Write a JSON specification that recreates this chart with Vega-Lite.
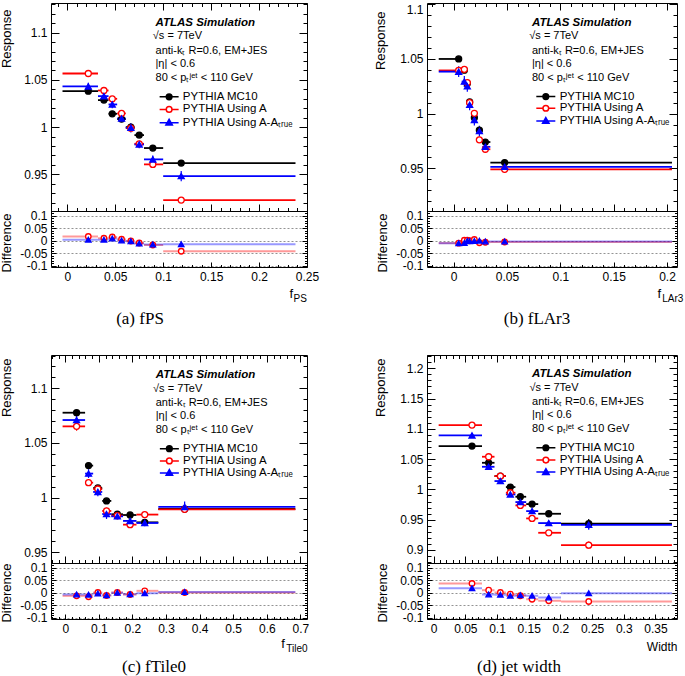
{
"$schema":"https://vega.github.io/schema/vega-lite/v6.json",
"background":"white",
"padding":{"left":0,"top":-3,"right":0,"bottom":0},
"config":{
 "view":{"stroke":"black","strokeWidth":1},
 "font":"Liberation Sans",
 "axis":{"labelFont":"Liberation Sans","labelFontSize":12,"labelColor":"black","titleFont":"Liberation Sans","titleFontSize":13,"titleFontWeight":"normal","titleColor":"black","tickColor":"black","domain":false,"grid":false,"labelOverlap":false,"labelFlush":false},
 "title":{"font":"Liberation Serif","fontSize":17,"fontWeight":"normal","color":"black"},
 "text":{"font":"Liberation Sans","fontSize":11,"color":"black","align":"left","baseline":"middle"}
},
"datasets":{
"pts":[
{"p":"a","s":"MC10","x":0.0219,"lo":-0.005,"hi":0.032,"y":1.0381,"e":0.0015},
{"p":"a","s":"MC10","x":0.0382,"lo":0.032,"hi":0.043,"y":1.0286,"e":0.0015},
{"p":"a","s":"MC10","x":0.0469,"lo":0.043,"hi":0.052,"y":1.0141,"e":0.0015},
{"p":"a","s":"MC10","x":0.0566,"lo":0.052,"hi":0.061,"y":1.0085,"e":0.0015},
{"p":"a","s":"MC10","x":0.0663,"lo":0.061,"hi":0.070,"y":1.0000,"e":0.0015},
{"p":"a","s":"MC10","x":0.0750,"lo":0.070,"hi":0.080,"y":0.9915,"e":0.0015},
{"p":"a","s":"MC10","x":0.0892,"lo":0.080,"hi":0.100,"y":0.9778,"e":0.002},
{"p":"a","s":"MC10","x":0.1188,"lo":0.100,"hi":0.238,"y":0.9619,"e":0.002},
{"p":"a","s":"A","x":0.0219,"lo":-0.005,"hi":0.032,"y":1.0568,"e":0.0025,"d":0.016},
{"p":"a","s":"A","x":0.0382,"lo":0.032,"hi":0.043,"y":1.0388,"e":0.0025,"d":0.009},
{"p":"a","s":"A","x":0.0469,"lo":0.043,"hi":0.052,"y":1.0300,"e":0.0025,"d":0.014},
{"p":"a","s":"A","x":0.0566,"lo":0.052,"hi":0.061,"y":1.0145,"e":0.0025,"d":0.005},
{"p":"a","s":"A","x":0.0663,"lo":0.061,"hi":0.070,"y":0.9989,"e":0.0025,"d":-0.002},
{"p":"a","s":"A","x":0.0750,"lo":0.070,"hi":0.080,"y":0.9823,"e":0.0025,"d":-0.010},
{"p":"a","s":"A","x":0.0892,"lo":0.080,"hi":0.100,"y":0.9605,"e":0.0025,"d":-0.018},
{"p":"a","s":"A","x":0.1188,"lo":0.100,"hi":0.238,"y":0.9227,"e":0.0025,"d":-0.043},
{"p":"a","s":"AA","x":0.0219,"lo":-0.005,"hi":0.032,"y":1.0431,"e":0.004,"d":0.003},
{"p":"a","s":"AA","x":0.0382,"lo":0.032,"hi":0.043,"y":1.0328,"e":0.004,"d":0.003},
{"p":"a","s":"AA","x":0.0469,"lo":0.043,"hi":0.052,"y":1.0240,"e":0.004,"d":0.008},
{"p":"a","s":"AA","x":0.0566,"lo":0.052,"hi":0.061,"y":1.0092,"e":0.004,"d":0.0},
{"p":"a","s":"AA","x":0.0663,"lo":0.061,"hi":0.070,"y":0.9993,"e":0.005,"d":-0.003},
{"p":"a","s":"AA","x":0.0750,"lo":0.070,"hi":0.080,"y":0.9816,"e":0.004,"d":-0.012},
{"p":"a","s":"AA","x":0.0892,"lo":0.080,"hi":0.100,"y":0.9658,"e":0.004,"d":-0.016},
{"p":"a","s":"AA","x":0.1188,"lo":0.100,"hi":0.238,"y":0.9481,"e":0.0055,"d":-0.015},

{"p":"b","s":"MC10","x":0.0047,"lo":-0.014,"hi":0.0075,"y":1.0500,"e":0.0015},
{"p":"b","s":"MC10","x":0.0100,"lo":0.0075,"hi":0.0112,"y":1.0397,"e":0.0015},
{"p":"b","s":"MC10","x":0.0128,"lo":0.0112,"hi":0.0138,"y":1.0275,"e":0.0015},
{"p":"b","s":"MC10","x":0.0150,"lo":0.0138,"hi":0.0172,"y":1.0107,"e":0.0015},
{"p":"b","s":"MC10","x":0.0194,"lo":0.0172,"hi":0.0218,"y":0.9963,"e":0.0015},
{"p":"b","s":"MC10","x":0.0241,"lo":0.0218,"hi":0.0268,"y":0.9848,"e":0.002},
{"p":"b","s":"MC10","x":0.0297,"lo":0.0268,"hi":0.0344,"y":0.9740,"e":0.002},
{"p":"b","s":"MC10","x":0.0478,"lo":0.0344,"hi":0.2047,"y":0.9552,"e":0.002},
{"p":"b","s":"A","x":0.0047,"lo":-0.014,"hi":0.0075,"y":1.0395,"e":0.003,"d":-0.0105},
{"p":"b","s":"A","x":0.0100,"lo":0.0075,"hi":0.0112,"y":1.0405,"e":0.003,"d":0.001},
{"p":"b","s":"A","x":0.0128,"lo":0.0112,"hi":0.0138,"y":1.0283,"e":0.003,"d":0.001},
{"p":"b","s":"A","x":0.0150,"lo":0.0138,"hi":0.0172,"y":1.0100,"e":0.003,"d":-0.001},
{"p":"b","s":"A","x":0.0194,"lo":0.0172,"hi":0.0218,"y":1.0003,"e":0.003,"d":0.004},
{"p":"b","s":"A","x":0.0241,"lo":0.0218,"hi":0.0268,"y":0.9760,"e":0.003,"d":-0.009},
{"p":"b","s":"A","x":0.0297,"lo":0.0268,"hi":0.0344,"y":0.9674,"e":0.003,"d":-0.007},
{"p":"b","s":"A","x":0.0478,"lo":0.0344,"hi":0.2047,"y":0.9490,"e":0.003,"d":-0.006},
{"p":"b","s":"AA","x":0.0047,"lo":-0.014,"hi":0.0075,"y":1.0384,"e":0.005,"d":-0.011},
{"p":"b","s":"AA","x":0.0100,"lo":0.0075,"hi":0.0112,"y":1.0293,"e":0.005,"d":-0.010},
{"p":"b","s":"AA","x":0.0128,"lo":0.0112,"hi":0.0138,"y":1.0250,"e":0.005,"d":-0.002},
{"p":"b","s":"AA","x":0.0150,"lo":0.0138,"hi":0.0172,"y":1.0080,"e":0.005,"d":-0.003},
{"p":"b","s":"AA","x":0.0194,"lo":0.0172,"hi":0.0218,"y":0.9942,"e":0.005,"d":-0.002},
{"p":"b","s":"AA","x":0.0241,"lo":0.0218,"hi":0.0268,"y":0.9840,"e":0.005,"d":-0.001},
{"p":"b","s":"AA","x":0.0297,"lo":0.0268,"hi":0.0344,"y":0.9696,"e":0.005,"d":-0.004},
{"p":"b","s":"AA","x":0.0478,"lo":0.0344,"hi":0.2047,"y":0.9513,"e":0.005,"d":-0.004},

{"p":"c","s":"MC10","x":0.0337,"lo":-0.008,"hi":0.059,"y":1.0777,"e":0.002},
{"p":"c","s":"MC10","x":0.0693,"lo":0.059,"hi":0.083,"y":1.0293,"e":0.0015},
{"p":"c","s":"MC10","x":0.0970,"lo":0.083,"hi":0.110,"y":1.0088,"e":0.0015},
{"p":"c","s":"MC10","x":0.1228,"lo":0.110,"hi":0.137,"y":0.9970,"e":0.0015},
{"p":"c","s":"MC10","x":0.1550,"lo":0.137,"hi":0.172,"y":0.9848,"e":0.0015},
{"p":"c","s":"MC10","x":0.1930,"lo":0.172,"hi":0.212,"y":0.9841,"e":0.0015},
{"p":"c","s":"MC10","x":0.2366,"lo":0.212,"hi":0.277,"y":0.9774,"e":0.002},
{"p":"c","s":"MC10","x":0.3554,"lo":0.277,"hi":0.685,"y":0.9896,"e":0.003},
{"p":"c","s":"A","x":0.0337,"lo":-0.008,"hi":0.059,"y":1.0652,"e":0.004,"d":-0.0133},
{"p":"c","s":"A","x":0.0693,"lo":0.059,"hi":0.083,"y":1.0137,"e":0.003,"d":-0.017},
{"p":"c","s":"A","x":0.0970,"lo":0.083,"hi":0.110,"y":1.0079,"e":0.003,"d":0.0},
{"p":"c","s":"A","x":0.1228,"lo":0.110,"hi":0.137,"y":0.9878,"e":0.003,"d":-0.012},
{"p":"c","s":"A","x":0.1550,"lo":0.137,"hi":0.172,"y":0.9835,"e":0.003,"d":0.0},
{"p":"c","s":"A","x":0.1930,"lo":0.172,"hi":0.212,"y":0.9753,"e":0.003,"d":-0.008},
{"p":"c","s":"A","x":0.2366,"lo":0.212,"hi":0.277,"y":0.9845,"e":0.003,"d":0.0067},
{"p":"c","s":"A","x":0.3554,"lo":0.277,"hi":0.685,"y":0.9893,"e":0.003,"d":0.0},
{"p":"c","s":"AA","x":0.0337,"lo":-0.008,"hi":0.059,"y":1.0710,"e":0.004,"d":-0.008},
{"p":"c","s":"AA","x":0.0693,"lo":0.059,"hi":0.083,"y":1.0220,"e":0.004,"d":-0.009},
{"p":"c","s":"AA","x":0.0970,"lo":0.083,"hi":0.110,"y":1.0052,"e":0.004,"d":-0.004},
{"p":"c","s":"AA","x":0.1228,"lo":0.110,"hi":0.137,"y":0.9850,"e":0.0045,"d":-0.011},
{"p":"c","s":"AA","x":0.1550,"lo":0.137,"hi":0.172,"y":0.9829,"e":0.003,"d":-0.001},
{"p":"c","s":"AA","x":0.1930,"lo":0.172,"hi":0.212,"y":0.9787,"e":0.004,"d":-0.007},
{"p":"c","s":"AA","x":0.2366,"lo":0.212,"hi":0.277,"y":0.9768,"e":0.003,"d":-0.003},
{"p":"c","s":"AA","x":0.3554,"lo":0.277,"hi":0.685,"y":0.9915,"e":0.005,"d":0.002},

{"p":"d","s":"MC10","x":0.0605,"lo":0.0079,"hi":0.0763,"y":1.0716,"e":0.002},
{"p":"d","s":"MC10","x":0.0868,"lo":0.0763,"hi":0.096,"y":1.0440,"e":0.003},
{"p":"d","s":"MC10","x":0.1053,"lo":0.096,"hi":0.114,"y":1.0220,"e":0.003},
{"p":"d","s":"MC10","x":0.1210,"lo":0.114,"hi":0.129,"y":1.0039,"e":0.003},
{"p":"d","s":"MC10","x":0.1368,"lo":0.129,"hi":0.146,"y":0.9879,"e":0.003},
{"p":"d","s":"MC10","x":0.1553,"lo":0.146,"hi":0.165,"y":0.9758,"e":0.003},
{"p":"d","s":"MC10","x":0.1816,"lo":0.165,"hi":0.201,"y":0.9598,"e":0.003},
{"p":"d","s":"MC10","x":0.2447,"lo":0.201,"hi":0.376,"y":0.9433,"e":0.008},
{"p":"d","s":"A","x":0.0605,"lo":0.0079,"hi":0.0763,"y":1.1063,"e":0.003,"d":0.036},
{"p":"d","s":"A","x":0.0868,"lo":0.0763,"hi":0.096,"y":1.0540,"e":0.003,"d":0.0093},
{"p":"d","s":"A","x":0.1053,"lo":0.096,"hi":0.114,"y":1.0220,"e":0.003,"d":0.0},
{"p":"d","s":"A","x":0.1210,"lo":0.114,"hi":0.129,"y":0.9945,"e":0.003,"d":-0.0067},
{"p":"d","s":"A","x":0.1368,"lo":0.129,"hi":0.146,"y":0.9736,"e":0.003,"d":-0.013},
{"p":"d","s":"A","x":0.1553,"lo":0.146,"hi":0.165,"y":0.9521,"e":0.003,"d":-0.027},
{"p":"d","s":"A","x":0.1816,"lo":0.165,"hi":0.201,"y":0.9284,"e":0.003,"d":-0.033},
{"p":"d","s":"A","x":0.2447,"lo":0.201,"hi":0.376,"y":0.9080,"e":0.006,"d":-0.036},
{"p":"d","s":"AA","x":0.0605,"lo":0.0079,"hi":0.0763,"y":1.0892,"e":0.003,"d":0.0173},
{"p":"d","s":"AA","x":0.0868,"lo":0.0763,"hi":0.096,"y":1.0374,"e":0.003,"d":-0.008},
{"p":"d","s":"AA","x":0.1053,"lo":0.096,"hi":0.114,"y":1.0138,"e":0.003,"d":-0.009},
{"p":"d","s":"AA","x":0.1210,"lo":0.114,"hi":0.129,"y":0.9917,"e":0.003,"d":-0.013},
{"p":"d","s":"AA","x":0.1368,"lo":0.129,"hi":0.146,"y":0.9791,"e":0.003,"d":-0.011},
{"p":"d","s":"AA","x":0.1553,"lo":0.146,"hi":0.165,"y":0.9642,"e":0.004,"d":-0.013},
{"p":"d","s":"AA","x":0.1816,"lo":0.165,"hi":0.201,"y":0.9444,"e":0.004,"d":-0.020},
{"p":"d","s":"AA","x":0.2447,"lo":0.201,"hi":0.376,"y":0.9416,"e":0.008,"d":-0.003}
]},
"spacing":22,
"vconcat":[
{"spacing":120,"bounds":"flush","hconcat":[
 {"width":256,"height":264,"data":{"name":"pts"},"transform":[{"filter":"datum.p=='a'"}],
  "title":{"text":"(a) fPS","orient":"bottom","anchor":"middle","frame":"group","dx":-39,"offset":7.5},
  "resolve":{"scale":{"y":"independent"},"axis":{"x":"independent","y":"independent"}},
  "layer":[
   {"resolve":{"axis":{"x":"independent","y":"independent"}},
    "layer":[
    {"mark":{"type":"rule","strokeWidth":1.8},
     "encoding":{
      "x":{"field":"lo","type":"quantitative","scale":{"domain":[-0.017,0.25],"nice":false,"zero":false},
           "axis":{"orient":"bottom","offset":-56,"domain":true,"domainColor":"black","values":[-0.01,0,0.01,0.02,0.03,0.04,0.05,0.06,0.07,0.08,0.09,0.1,0.11,0.12,0.13,0.14,0.15,0.16,0.17,0.18,0.19,0.2,0.21,0.22,0.23,0.24,0.25],"labels":false,"title":null,
                   "tickSize":{"condition":{"test":"abs(datum.value*20-round(datum.value*20))<0.001","value":-7},"value":-3.5}}},
      "x2":{"field":"hi"},
      "y":{"field":"y","type":"quantitative","scale":{"domain":[0.9111,1.1315],"range":[208,0],"nice":false,"zero":false},
           "axis":{"orient":"left","values":[0.92,0.93,0.94,0.95,0.96,0.97,0.98,0.99,1,1.01,1.02,1.03,1.04,1.05,1.06,1.07,1.08,1.09,1.1,1.11,1.12,1.13],
                   "labelExpr":"abs(datum.value*20-round(datum.value*20))<0.001 ? ''+datum.value : ''","labelPadding":12,
                   "tickSize":{"condition":{"test":"abs(datum.value*20-round(datum.value*20))<0.001","value":-8},"value":-4},
                   "title":"Response","titleX":-40.5,"titleY":6,"titleAlign":"right","titleBaseline":"alphabetic","titleAngle":270}},
      "color":{"field":"s","type":"nominal","scale":{"domain":["MC10","A","AA"],"range":["#000000","#ff0000","#0000ff"]},"legend":null}}},
    {"mark":{"type":"errorbar","ticks":false,"thickness":1.2},
     "encoding":{"x":{"field":"x","type":"quantitative","axis":null},"y":{"field":"y","type":"quantitative","axis":null},"yError":{"field":"e"},
      "color":{"field":"s","type":"nominal","scale":{"domain":["MC10","A","AA"],"range":["#000000","#ff0000","#0000ff"]},"legend":null}}},
    {"mark":{"type":"point","size":36,"strokeWidth":1.3,"opacity":1},
     "encoding":{
      "x":{"field":"x","type":"quantitative","axis":{"orient":"top","values":[-0.01,0,0.01,0.02,0.03,0.04,0.05,0.06,0.07,0.08,0.09,0.1,0.11,0.12,0.13,0.14,0.15,0.16,0.17,0.18,0.19,0.2,0.21,0.22,0.23,0.24,0.25],"labels":false,"title":null,
                   "tickSize":{"condition":{"test":"abs(datum.value*20-round(datum.value*20))<0.001","value":-7},"value":-3.5}}},
      "y":{"field":"y","type":"quantitative","axis":{"orient":"right","values":[0.92,0.93,0.94,0.95,0.96,0.97,0.98,0.99,1,1.01,1.02,1.03,1.04,1.05,1.06,1.07,1.08,1.09,1.1,1.11,1.12,1.13],"labels":false,"title":null,
                   "tickSize":{"condition":{"test":"abs(datum.value*20-round(datum.value*20))<0.001","value":-8},"value":-4}}},
      "shape":{"field":"s","type":"nominal","scale":{"domain":["MC10","A","AA"],"range":["circle","circle","triangle-up"]},"legend":null},
      "fill":{"field":"s","type":"nominal","scale":{"domain":["MC10","A","AA"],"range":["#000000","#ffffff","#0000ff"]},"legend":null},
      "stroke":{"field":"s","type":"nominal","scale":{"domain":["MC10","A","AA"],"range":["#000000","#ff0000","#0000ff"]},"legend":null}}},
    {"data":{"values":[{}]},"mark":{"type":"text","text":"ATLAS Simulation","fontWeight":"bold","fontStyle":"italic","fontSize":11.5},"encoding":{"x":{"datum":0.092,"type":"quantitative","axis":null},"y":{"datum":1.1098,"type":"quantitative","axis":null}}},
    {"data":{"values":[{}]},"mark":{"type":"text","text":"√s = 7TeV"},"encoding":{"x":{"datum":0.0892,"type":"quantitative","axis":null},"y":{"datum":1.0964,"type":"quantitative","axis":null}}},
    {"data":{"values":[{}]},"mark":{"type":"text","text":"anti-kₜ R=0.6, EM+JES"},"encoding":{"x":{"datum":0.092,"type":"quantitative","axis":null},"y":{"datum":1.0805,"type":"quantitative","axis":null}}},
    {"data":{"values":[{}]},"mark":{"type":"text","text":"|η| < 0.6"},"encoding":{"x":{"datum":0.092,"type":"quantitative","axis":null},"y":{"datum":1.0664,"type":"quantitative","axis":null}}},
    {"data":{"values":[{}]},"mark":{"type":"text","text":"80 < pₜʲᵉᵗ < 110 GeV"},"encoding":{"x":{"datum":0.092,"type":"quantitative","axis":null},"y":{"datum":1.0515,"type":"quantitative","axis":null}}},
    {"data":{"values":[{}]},"mark":{"type":"point","shape":"M-1,0L1,0M-0.3,0A0.3,0.3,0,1,1,0.3,0A0.3,0.3,0,1,1,-0.3,0Z","size":361,"fill":"#000000","stroke":"#000000","strokeWidth":1.5,"opacity":1},"encoding":{"x":{"datum":0.1062,"type":"quantitative","axis":null},"y":{"datum":1.0321,"type":"quantitative","axis":null}}},
    {"data":{"values":[{}]},"mark":{"type":"point","shape":"M-1,0L-0.3,0M0.3,0L1,0M-0.3,0A0.3,0.3,0,1,1,0.3,0A0.3,0.3,0,1,1,-0.3,0Z","size":361,"fill":"#ffffff","stroke":"#ff0000","strokeWidth":1.5,"opacity":1},"encoding":{"x":{"datum":0.1062,"type":"quantitative","axis":null},"y":{"datum":1.0187,"type":"quantitative","axis":null}}},
    {"data":{"values":[{}]},"mark":{"type":"point","shape":"M-1,0L1,0M0,-0.36L0.34,0.24L-0.34,0.24Z","size":361,"fill":"#0000ff","stroke":"#0000ff","strokeWidth":1.5,"opacity":1},"encoding":{"x":{"datum":0.1062,"type":"quantitative","axis":null},"y":{"datum":1.0046,"type":"quantitative","axis":null}}},
    {"data":{"values":[{}]},"mark":{"type":"text","text":"PYTHIA MC10","fontSize":11.5},"encoding":{"x":{"datum":0.1205,"type":"quantitative","axis":null},"y":{"datum":1.0321,"type":"quantitative","axis":null}}},
    {"data":{"values":[{}]},"mark":{"type":"text","text":"PYTHIA Using A","fontSize":11.5},"encoding":{"x":{"datum":0.1205,"type":"quantitative","axis":null},"y":{"datum":1.0187,"type":"quantitative","axis":null}}},
    {"data":{"values":[{}]},"mark":{"type":"text","text":"PYTHIA Using A-Aₜᵣᵤₑ","fontSize":11.5},"encoding":{"x":{"datum":0.1205,"type":"quantitative","axis":null},"y":{"datum":1.0046,"type":"quantitative","axis":null}}}
   ]},
   {"transform":[{"filter":"datum.s!='MC10'"}],
    "resolve":{"axis":{"x":"independent","y":"independent"}},
    "layer":[
    {"mark":{"type":"rule","strokeWidth":2,"opacity":0.4},
     "encoding":{
      "x":{"field":"lo","type":"quantitative","scale":{"domain":[-0.017,0.25],"nice":false,"zero":false},
           "axis":{"orient":"bottom","values":[-0.01,0,0.01,0.02,0.03,0.04,0.05,0.06,0.07,0.08,0.09,0.1,0.11,0.12,0.13,0.14,0.15,0.16,0.17,0.18,0.19,0.2,0.21,0.22,0.23,0.24,0.25],
                   "labelExpr":"abs(datum.value*20-round(datum.value*20))<0.001 ? ''+datum.value : ''","labelPadding":9,
                   "tickSize":{"condition":{"test":"abs(datum.value*20-round(datum.value*20))<0.001","value":-5},"value":-2.5},
                   "title":"f","titleX":238,"titleY":30,"titleAlign":"left","titleBaseline":"alphabetic"}},
      "x2":{"field":"hi"},
      "y":{"field":"d","type":"quantitative","scale":{"domain":[-0.106,0.118],"range":[264,208],"nice":false,"zero":false},
           "axis":{"orient":"left","values":[-0.1,-0.09,-0.08,-0.07,-0.06,-0.05,-0.04,-0.03,-0.02,-0.01,0,0.01,0.02,0.03,0.04,0.05,0.06,0.07,0.08,0.09,0.1,0.11],
                   "labelExpr":"abs(datum.value*20-round(datum.value*20))<0.001 ? ''+datum.value : ''","labelPadding":9,
                   "tickSize":{"condition":{"test":"abs(datum.value*20-round(datum.value*20))<0.001","value":-5},"value":-2.5},
                   "grid":true,"gridDash":[2,2],"gridColor":"#777777","gridWidth":0.8,"gridOpacity":{"condition":{"test":"abs(datum.value*20-round(datum.value*20))<0.001","value":1},"value":0},
                   "title":"Difference","titleX":-40.5,"titleY":210,"titleAlign":"right","titleBaseline":"alphabetic","titleAngle":270}},
      "color":{"field":"s","type":"nominal","scale":{"domain":["MC10","A","AA"],"range":["#000000","#ff0000","#0000ff"]},"legend":null}}},
    {"mark":{"type":"point","size":30,"strokeWidth":1.3,"opacity":1},
     "encoding":{
      "x":{"field":"x","type":"quantitative","axis":{"orient":"top","ticks":false,"labels":false,"title":"PS","titleFontSize":10,"titleX":242,"titleY":298,"titleAlign":"left","titleBaseline":"alphabetic"}},
      "y":{"field":"d","type":"quantitative","axis":{"orient":"right","values":[-0.1,-0.09,-0.08,-0.07,-0.06,-0.05,-0.04,-0.03,-0.02,-0.01,0,0.01,0.02,0.03,0.04,0.05,0.06,0.07,0.08,0.09,0.1,0.11],"labels":false,"title":null,
                   "tickSize":{"condition":{"test":"abs(datum.value*20-round(datum.value*20))<0.001","value":-5},"value":-2.5}}},
      "shape":{"field":"s","type":"nominal","scale":{"domain":["MC10","A","AA"],"range":["circle","circle","triangle-up"]},"legend":null},
      "fill":{"field":"s","type":"nominal","scale":{"domain":["MC10","A","AA"],"range":["#000000","#ffffff","#0000ff"]},"legend":null},
      "stroke":{"field":"s","type":"nominal","scale":{"domain":["MC10","A","AA"],"range":["#000000","#ff0000","#0000ff"]},"legend":null}}}
   ]}
  ]},
 {"width":250,"height":264,"data":{"name":"pts"},"transform":[{"filter":"datum.p=='b'"}],
  "title":{"text":"(b) fLAr3","orient":"bottom","anchor":"middle","frame":"group","dx":-15,"offset":7.5},
  "resolve":{"scale":{"y":"independent"},"axis":{"x":"independent","y":"independent"}},
  "layer":[
   {"resolve":{"axis":{"x":"independent","y":"independent"}},
    "layer":[
    {"mark":{"type":"rule","strokeWidth":1.8},
     "encoding":{
      "x":{"field":"lo","type":"quantitative","scale":{"domain":[-0.025,0.2094],"nice":false,"zero":false},
           "axis":{"orient":"bottom","offset":-56,"domain":true,"domainColor":"black","values":[-0.02,-0.01,0,0.01,0.02,0.03,0.04,0.05,0.06,0.07,0.08,0.09,0.1,0.11,0.12,0.13,0.14,0.15,0.16,0.17,0.18,0.19,0.2],"labels":false,"title":null,
                   "tickSize":{"condition":{"test":"abs(datum.value*20-round(datum.value*20))<0.001","value":-7},"value":-3.5}}},
      "x2":{"field":"hi"},
      "y":{"field":"y","type":"quantitative","scale":{"domain":[0.9109,1.1012],"range":[208,0],"nice":false,"zero":false},
           "axis":{"orient":"left","values":[0.92,0.93,0.94,0.95,0.96,0.97,0.98,0.99,1,1.01,1.02,1.03,1.04,1.05,1.06,1.07,1.08,1.09,1.1],"labelFlush":2,
                   "labelExpr":"abs(datum.value*20-round(datum.value*20))<0.001 ? ''+datum.value : ''","labelPadding":12,
                   "tickSize":{"condition":{"test":"abs(datum.value*20-round(datum.value*20))<0.001","value":-8},"value":-4},
                   "title":"Response","titleX":-43,"titleY":8,"titleAlign":"right","titleBaseline":"alphabetic","titleAngle":270}},
      "color":{"field":"s","type":"nominal","scale":{"domain":["MC10","A","AA"],"range":["#000000","#ff0000","#0000ff"]},"legend":null}}},
    {"mark":{"type":"errorbar","ticks":false,"thickness":1.2},
     "encoding":{"x":{"field":"x","type":"quantitative","axis":null},"y":{"field":"y","type":"quantitative","axis":null},"yError":{"field":"e"},
      "color":{"field":"s","type":"nominal","scale":{"domain":["MC10","A","AA"],"range":["#000000","#ff0000","#0000ff"]},"legend":null}}},
    {"mark":{"type":"point","size":36,"strokeWidth":1.3,"opacity":1},
     "encoding":{
      "x":{"field":"x","type":"quantitative","axis":{"orient":"top","values":[-0.02,-0.01,0,0.01,0.02,0.03,0.04,0.05,0.06,0.07,0.08,0.09,0.1,0.11,0.12,0.13,0.14,0.15,0.16,0.17,0.18,0.19,0.2],"labels":false,"title":null,
                   "tickSize":{"condition":{"test":"abs(datum.value*20-round(datum.value*20))<0.001","value":-7},"value":-3.5}}},
      "y":{"field":"y","type":"quantitative","axis":{"orient":"right","values":[0.92,0.93,0.94,0.95,0.96,0.97,0.98,0.99,1,1.01,1.02,1.03,1.04,1.05,1.06,1.07,1.08,1.09,1.1],"labels":false,"title":null,
                   "tickSize":{"condition":{"test":"abs(datum.value*20-round(datum.value*20))<0.001","value":-8},"value":-4}}},
      "shape":{"field":"s","type":"nominal","scale":{"domain":["MC10","A","AA"],"range":["circle","circle","triangle-up"]},"legend":null},
      "fill":{"field":"s","type":"nominal","scale":{"domain":["MC10","A","AA"],"range":["#000000","#ffffff","#0000ff"]},"legend":null},
      "stroke":{"field":"s","type":"nominal","scale":{"domain":["MC10","A","AA"],"range":["#000000","#ff0000","#0000ff"]},"legend":null}}},
    {"data":{"values":[{}]},"mark":{"type":"text","text":"ATLAS Simulation","fontWeight":"bold","fontStyle":"italic","fontSize":11.5},"encoding":{"x":{"datum":0.0734,"type":"quantitative","axis":null},"y":{"datum":1.0827,"type":"quantitative","axis":null}}},
    {"data":{"values":[{}]},"mark":{"type":"text","text":"√s = 7TeV"},"encoding":{"x":{"datum":0.0709,"type":"quantitative","axis":null},"y":{"datum":1.0711,"type":"quantitative","axis":null}}},
    {"data":{"values":[{}]},"mark":{"type":"text","text":"anti-kₜ R=0.6, EM+JES"},"encoding":{"x":{"datum":0.0734,"type":"quantitative","axis":null},"y":{"datum":1.0573,"type":"quantitative","axis":null}}},
    {"data":{"values":[{}]},"mark":{"type":"text","text":"|η| < 0.6"},"encoding":{"x":{"datum":0.0734,"type":"quantitative","axis":null},"y":{"datum":1.0451,"type":"quantitative","axis":null}}},
    {"data":{"values":[{}]},"mark":{"type":"text","text":"80 < pₜʲᵉᵗ < 110 GeV"},"encoding":{"x":{"datum":0.0734,"type":"quantitative","axis":null},"y":{"datum":1.0329,"type":"quantitative","axis":null}}},
    {"data":{"values":[{}]},"mark":{"type":"point","shape":"M-1,0L1,0M-0.3,0A0.3,0.3,0,1,1,0.3,0A0.3,0.3,0,1,1,-0.3,0Z","size":361,"fill":"#000000","stroke":"#000000","strokeWidth":1.5,"opacity":1},"encoding":{"x":{"datum":0.0864,"type":"quantitative","axis":null},"y":{"datum":1.0156,"type":"quantitative","axis":null}}},
    {"data":{"values":[{}]},"mark":{"type":"point","shape":"M-1,0L-0.3,0M0.3,0L1,0M-0.3,0A0.3,0.3,0,1,1,0.3,0A0.3,0.3,0,1,1,-0.3,0Z","size":361,"fill":"#ffffff","stroke":"#ff0000","strokeWidth":1.5,"opacity":1},"encoding":{"x":{"datum":0.0864,"type":"quantitative","axis":null},"y":{"datum":1.0049,"type":"quantitative","axis":null}}},
    {"data":{"values":[{}]},"mark":{"type":"point","shape":"M-1,0L1,0M0,-0.36L0.34,0.24L-0.34,0.24Z","size":361,"fill":"#0000ff","stroke":"#0000ff","strokeWidth":1.5,"opacity":1},"encoding":{"x":{"datum":0.0864,"type":"quantitative","axis":null},"y":{"datum":0.9933,"type":"quantitative","axis":null}}},
    {"data":{"values":[{}]},"mark":{"type":"text","text":"PYTHIA MC10","fontSize":11.5},"encoding":{"x":{"datum":0.0994,"type":"quantitative","axis":null},"y":{"datum":1.0156,"type":"quantitative","axis":null}}},
    {"data":{"values":[{}]},"mark":{"type":"text","text":"PYTHIA Using A","fontSize":11.5},"encoding":{"x":{"datum":0.0994,"type":"quantitative","axis":null},"y":{"datum":1.0049,"type":"quantitative","axis":null}}},
    {"data":{"values":[{}]},"mark":{"type":"text","text":"PYTHIA Using A-Aₜᵣᵤₑ","fontSize":11.5},"encoding":{"x":{"datum":0.0994,"type":"quantitative","axis":null},"y":{"datum":0.9933,"type":"quantitative","axis":null}}}
   ]},
   {"transform":[{"filter":"datum.s!='MC10'"}],
    "resolve":{"axis":{"x":"independent","y":"independent"}},
    "layer":[
    {"mark":{"type":"rule","strokeWidth":2,"opacity":0.4},
     "encoding":{
      "x":{"field":"lo","type":"quantitative","scale":{"domain":[-0.025,0.2094],"nice":false,"zero":false},
           "axis":{"orient":"bottom","values":[-0.02,-0.01,0,0.01,0.02,0.03,0.04,0.05,0.06,0.07,0.08,0.09,0.1,0.11,0.12,0.13,0.14,0.15,0.16,0.17,0.18,0.19,0.2],
                   "labelExpr":"abs(datum.value*20-round(datum.value*20))<0.001 ? ''+datum.value : ''","labelPadding":9,
                   "tickSize":{"condition":{"test":"abs(datum.value*20-round(datum.value*20))<0.001","value":-5},"value":-2.5},
                   "title":"f","titleX":230,"titleY":30,"titleAlign":"left","titleBaseline":"alphabetic"}},
      "x2":{"field":"hi"},
      "y":{"field":"d","type":"quantitative","scale":{"domain":[-0.106,0.118],"range":[264,208],"nice":false,"zero":false},
           "axis":{"orient":"left","values":[-0.1,-0.09,-0.08,-0.07,-0.06,-0.05,-0.04,-0.03,-0.02,-0.01,0,0.01,0.02,0.03,0.04,0.05,0.06,0.07,0.08,0.09,0.1,0.11],
                   "labelExpr":"abs(datum.value*20-round(datum.value*20))<0.001 ? ''+datum.value : ''","labelPadding":9,
                   "tickSize":{"condition":{"test":"abs(datum.value*20-round(datum.value*20))<0.001","value":-5},"value":-2.5},
                   "grid":true,"gridDash":[2,2],"gridColor":"#777777","gridWidth":0.8,"gridOpacity":{"condition":{"test":"abs(datum.value*20-round(datum.value*20))<0.001","value":1},"value":0},
                   "title":"Difference","titleX":-41,"titleY":210,"titleAlign":"right","titleBaseline":"alphabetic","titleAngle":270}},
      "color":{"field":"s","type":"nominal","scale":{"domain":["MC10","A","AA"],"range":["#000000","#ff0000","#0000ff"]},"legend":null}}},
    {"mark":{"type":"point","size":30,"strokeWidth":1.3,"opacity":1},
     "encoding":{
      "x":{"field":"x","type":"quantitative","axis":{"orient":"top","ticks":false,"labels":false,"title":"LAr3","titleFontSize":10,"titleX":234.7,"titleY":298,"titleAlign":"left","titleBaseline":"alphabetic"}},
      "y":{"field":"d","type":"quantitative","axis":{"orient":"right","values":[-0.1,-0.09,-0.08,-0.07,-0.06,-0.05,-0.04,-0.03,-0.02,-0.01,0,0.01,0.02,0.03,0.04,0.05,0.06,0.07,0.08,0.09,0.1,0.11],"labels":false,"title":null,
                   "tickSize":{"condition":{"test":"abs(datum.value*20-round(datum.value*20))<0.001","value":-5},"value":-2.5}}},
      "shape":{"field":"s","type":"nominal","scale":{"domain":["MC10","A","AA"],"range":["circle","circle","triangle-up"]},"legend":null},
      "fill":{"field":"s","type":"nominal","scale":{"domain":["MC10","A","AA"],"range":["#000000","#ffffff","#0000ff"]},"legend":null},
      "stroke":{"field":"s","type":"nominal","scale":{"domain":["MC10","A","AA"],"range":["#000000","#ff0000","#0000ff"]},"legend":null}}}
   ]}
  ]}
]},
{"spacing":120,"bounds":"flush","hconcat":[
 {"width":256,"height":264,"data":{"name":"pts"},"transform":[{"filter":"datum.p=='c'"}],
  "title":{"text":"(c) fTile0","orient":"bottom","anchor":"middle","frame":"group","dx":-25,"offset":6},
  "resolve":{"scale":{"y":"independent"},"axis":{"x":"independent","y":"independent"}},
  "layer":[
   {"resolve":{"axis":{"x":"independent","y":"independent"}},
    "layer":[
    {"mark":{"type":"rule","strokeWidth":1.8},
     "encoding":{
      "x":{"field":"lo","type":"quantitative","scale":{"domain":[-0.0425,0.7197],"nice":false,"zero":false},
           "axis":{"orient":"bottom","offset":-56,"domain":true,"domainColor":"black","values":[-0.04,-0.02,0,0.02,0.04,0.06,0.08,0.1,0.12,0.14,0.16,0.18,0.2,0.22,0.24,0.26,0.28,0.3,0.32,0.34,0.36,0.38,0.4,0.42,0.44,0.46,0.48,0.5,0.52,0.54,0.56,0.58,0.6,0.62,0.64,0.66,0.68,0.7],"labels":false,"title":null,
                   "tickSize":{"condition":{"test":"abs(datum.value*10-round(datum.value*10))<0.001","value":-7},"value":-3.5}}},
      "x2":{"field":"hi"},
      "y":{"field":"y","type":"quantitative","scale":{"domain":[0.9402,1.1305],"range":[208,0],"nice":false,"zero":false},
           "axis":{"orient":"left","values":[0.95,0.96,0.97,0.98,0.99,1,1.01,1.02,1.03,1.04,1.05,1.06,1.07,1.08,1.09,1.1,1.11,1.12,1.13],
                   "labelExpr":"abs(datum.value*20-round(datum.value*20))<0.001 ? ''+datum.value : ''","labelPadding":12,
                   "tickSize":{"condition":{"test":"abs(datum.value*20-round(datum.value*20))<0.001","value":-8},"value":-4},
                   "title":"Response","titleX":-40.5,"titleY":3,"titleAlign":"right","titleBaseline":"alphabetic","titleAngle":270}},
      "color":{"field":"s","type":"nominal","scale":{"domain":["MC10","A","AA"],"range":["#000000","#ff0000","#0000ff"]},"legend":null}}},
    {"mark":{"type":"errorbar","ticks":false,"thickness":1.2},
     "encoding":{"x":{"field":"x","type":"quantitative","axis":null},"y":{"field":"y","type":"quantitative","axis":null},"yError":{"field":"e"},
      "color":{"field":"s","type":"nominal","scale":{"domain":["MC10","A","AA"],"range":["#000000","#ff0000","#0000ff"]},"legend":null}}},
    {"mark":{"type":"point","size":36,"strokeWidth":1.3,"opacity":1},
     "encoding":{
      "x":{"field":"x","type":"quantitative","axis":{"orient":"top","values":[-0.04,-0.02,0,0.02,0.04,0.06,0.08,0.1,0.12,0.14,0.16,0.18,0.2,0.22,0.24,0.26,0.28,0.3,0.32,0.34,0.36,0.38,0.4,0.42,0.44,0.46,0.48,0.5,0.52,0.54,0.56,0.58,0.6,0.62,0.64,0.66,0.68,0.7],"labels":false,"title":null,
                   "tickSize":{"condition":{"test":"abs(datum.value*10-round(datum.value*10))<0.001","value":-7},"value":-3.5}}},
      "y":{"field":"y","type":"quantitative","axis":{"orient":"right","values":[0.95,0.96,0.97,0.98,0.99,1,1.01,1.02,1.03,1.04,1.05,1.06,1.07,1.08,1.09,1.1,1.11,1.12,1.13],"labels":false,"title":null,
                   "tickSize":{"condition":{"test":"abs(datum.value*20-round(datum.value*20))<0.001","value":-8},"value":-4}}},
      "shape":{"field":"s","type":"nominal","scale":{"domain":["MC10","A","AA"],"range":["circle","circle","triangle-up"]},"legend":null},
      "fill":{"field":"s","type":"nominal","scale":{"domain":["MC10","A","AA"],"range":["#000000","#ffffff","#0000ff"]},"legend":null},
      "stroke":{"field":"s","type":"nominal","scale":{"domain":["MC10","A","AA"],"range":["#000000","#ff0000","#0000ff"]},"legend":null}}},
    {"data":{"values":[{}]},"mark":{"type":"text","text":"ATLAS Simulation","fontWeight":"bold","fontStyle":"italic","fontSize":11.5},"encoding":{"x":{"datum":0.2693,"type":"quantitative","axis":null},"y":{"datum":1.1125,"type":"quantitative","axis":null}}},
    {"data":{"values":[{}]},"mark":{"type":"text","text":"√s = 7TeV"},"encoding":{"x":{"datum":0.2614,"type":"quantitative","axis":null},"y":{"datum":1.0997,"type":"quantitative","axis":null}}},
    {"data":{"values":[{}]},"mark":{"type":"text","text":"anti-kₜ R=0.6, EM+JES"},"encoding":{"x":{"datum":0.2693,"type":"quantitative","axis":null},"y":{"datum":1.0866,"type":"quantitative","axis":null}}},
    {"data":{"values":[{}]},"mark":{"type":"text","text":"|η| < 0.6"},"encoding":{"x":{"datum":0.2693,"type":"quantitative","axis":null},"y":{"datum":1.0744,"type":"quantitative","axis":null}}},
    {"data":{"values":[{}]},"mark":{"type":"text","text":"80 < pₜʲᵉᵗ < 110 GeV"},"encoding":{"x":{"datum":0.2693,"type":"quantitative","axis":null},"y":{"datum":1.0622,"type":"quantitative","axis":null}}},
    {"data":{"values":[{}]},"mark":{"type":"point","shape":"M-1,0L1,0M-0.3,0A0.3,0.3,0,1,1,0.3,0A0.3,0.3,0,1,1,-0.3,0Z","size":361,"fill":"#000000","stroke":"#000000","strokeWidth":1.5,"opacity":1},"encoding":{"x":{"datum":0.3099,"type":"quantitative","axis":null},"y":{"datum":1.0448,"type":"quantitative","axis":null}}},
    {"data":{"values":[{}]},"mark":{"type":"point","shape":"M-1,0L-0.3,0M0.3,0L1,0M-0.3,0A0.3,0.3,0,1,1,0.3,0A0.3,0.3,0,1,1,-0.3,0Z","size":361,"fill":"#ffffff","stroke":"#ff0000","strokeWidth":1.5,"opacity":1},"encoding":{"x":{"datum":0.3099,"type":"quantitative","axis":null},"y":{"datum":1.0336,"type":"quantitative","axis":null}}},
    {"data":{"values":[{}]},"mark":{"type":"point","shape":"M-1,0L1,0M0,-0.36L0.34,0.24L-0.34,0.24Z","size":361,"fill":"#0000ff","stroke":"#0000ff","strokeWidth":1.5,"opacity":1},"encoding":{"x":{"datum":0.3099,"type":"quantitative","axis":null},"y":{"datum":1.0226,"type":"quantitative","axis":null}}},
    {"data":{"values":[{}]},"mark":{"type":"text","text":"PYTHIA MC10","fontSize":11.5},"encoding":{"x":{"datum":0.3505,"type":"quantitative","axis":null},"y":{"datum":1.0448,"type":"quantitative","axis":null}}},
    {"data":{"values":[{}]},"mark":{"type":"text","text":"PYTHIA Using A","fontSize":11.5},"encoding":{"x":{"datum":0.3505,"type":"quantitative","axis":null},"y":{"datum":1.0336,"type":"quantitative","axis":null}}},
    {"data":{"values":[{}]},"mark":{"type":"text","text":"PYTHIA Using A-Aₜᵣᵤₑ","fontSize":11.5},"encoding":{"x":{"datum":0.3505,"type":"quantitative","axis":null},"y":{"datum":1.0226,"type":"quantitative","axis":null}}}
   ]},
   {"transform":[{"filter":"datum.s!='MC10'"}],
    "resolve":{"axis":{"x":"independent","y":"independent"}},
    "layer":[
    {"mark":{"type":"rule","strokeWidth":2,"opacity":0.4},
     "encoding":{
      "x":{"field":"lo","type":"quantitative","scale":{"domain":[-0.0425,0.7197],"nice":false,"zero":false},
           "axis":{"orient":"bottom","values":[-0.04,-0.02,0,0.02,0.04,0.06,0.08,0.1,0.12,0.14,0.16,0.18,0.2,0.22,0.24,0.26,0.28,0.3,0.32,0.34,0.36,0.38,0.4,0.42,0.44,0.46,0.48,0.5,0.52,0.54,0.56,0.58,0.6,0.62,0.64,0.66,0.68,0.7],
                   "labelExpr":"abs(datum.value*10-round(datum.value*10))<0.001 ? ''+datum.value : ''","labelPadding":9,
                   "tickSize":{"condition":{"test":"abs(datum.value*10-round(datum.value*10))<0.001","value":-5},"value":-2.5},
                   "title":"f","titleX":229.7,"titleY":28,"titleAlign":"left","titleBaseline":"alphabetic"}},
      "x2":{"field":"hi"},
      "y":{"field":"d","type":"quantitative","scale":{"domain":[-0.106,0.118],"range":[264,208],"nice":false,"zero":false},
           "axis":{"orient":"left","values":[-0.1,-0.09,-0.08,-0.07,-0.06,-0.05,-0.04,-0.03,-0.02,-0.01,0,0.01,0.02,0.03,0.04,0.05,0.06,0.07,0.08,0.09,0.1,0.11],
                   "labelExpr":"abs(datum.value*20-round(datum.value*20))<0.001 ? ''+datum.value : ''","labelPadding":9,
                   "tickSize":{"condition":{"test":"abs(datum.value*20-round(datum.value*20))<0.001","value":-5},"value":-2.5},
                   "grid":true,"gridDash":[2,2],"gridColor":"#777777","gridWidth":0.8,"gridOpacity":{"condition":{"test":"abs(datum.value*20-round(datum.value*20))<0.001","value":1},"value":0},
                   "title":"Difference","titleX":-40.5,"titleY":208,"titleAlign":"right","titleBaseline":"alphabetic","titleAngle":270}},
      "color":{"field":"s","type":"nominal","scale":{"domain":["MC10","A","AA"],"range":["#000000","#ff0000","#0000ff"]},"legend":null}}},
    {"mark":{"type":"point","size":30,"strokeWidth":1.3,"opacity":1},
     "encoding":{
      "x":{"field":"x","type":"quantitative","axis":{"orient":"top","ticks":false,"labels":false,"title":"Tile0","titleFontSize":10,"titleX":234.7,"titleY":296,"titleAlign":"left","titleBaseline":"alphabetic"}},
      "y":{"field":"d","type":"quantitative","axis":{"orient":"right","values":[-0.1,-0.09,-0.08,-0.07,-0.06,-0.05,-0.04,-0.03,-0.02,-0.01,0,0.01,0.02,0.03,0.04,0.05,0.06,0.07,0.08,0.09,0.1,0.11],"labels":false,"title":null,
                   "tickSize":{"condition":{"test":"abs(datum.value*20-round(datum.value*20))<0.001","value":-5},"value":-2.5}}},
      "shape":{"field":"s","type":"nominal","scale":{"domain":["MC10","A","AA"],"range":["circle","circle","triangle-up"]},"legend":null},
      "fill":{"field":"s","type":"nominal","scale":{"domain":["MC10","A","AA"],"range":["#000000","#ffffff","#0000ff"]},"legend":null},
      "stroke":{"field":"s","type":"nominal","scale":{"domain":["MC10","A","AA"],"range":["#000000","#ff0000","#0000ff"]},"legend":null}}}
   ]}
  ]},
 {"width":250,"height":264,"data":{"name":"pts"},"transform":[{"filter":"datum.p=='d'"}],
  "title":{"text":"(d) jet width","orient":"bottom","anchor":"middle","frame":"group","dx":-33,"offset":6},
  "resolve":{"scale":{"y":"independent"},"axis":{"x":"independent","y":"independent"}},
  "layer":[
   {"resolve":{"axis":{"x":"independent","y":"independent"}},
    "layer":[
    {"mark":{"type":"rule","strokeWidth":1.8},
     "encoding":{
      "x":{"field":"lo","type":"quantitative","scale":{"domain":[-0.0105,0.384],"nice":false,"zero":false},
           "axis":{"orient":"bottom","offset":-56,"domain":true,"domainColor":"black","values":[-0.01,0,0.01,0.02,0.03,0.04,0.05,0.06,0.07,0.08,0.09,0.1,0.11,0.12,0.13,0.14,0.15,0.16,0.17,0.18,0.19,0.2,0.21,0.22,0.23,0.24,0.25,0.26,0.27,0.28,0.29,0.3,0.31,0.32,0.33,0.34,0.35,0.36,0.37,0.38],"labels":false,"title":null,
                   "tickSize":{"condition":{"test":"abs(datum.value*20-round(datum.value*20))<0.001","value":-7},"value":-3.5}}},
      "x2":{"field":"hi"},
      "y":{"field":"y","type":"quantitative","scale":{"domain":[0.8785,1.222],"range":[208,0],"nice":false,"zero":false},
           "axis":{"orient":"left","values":[0.88,0.89,0.9,0.91,0.92,0.93,0.94,0.95,0.96,0.97,0.98,0.99,1,1.01,1.02,1.03,1.04,1.05,1.06,1.07,1.08,1.09,1.1,1.11,1.12,1.13,1.14,1.15,1.16,1.17,1.18,1.19,1.2,1.21,1.22],
                   "labelExpr":"abs(datum.value*20-round(datum.value*20))<0.001 ? ''+datum.value : ''","labelPadding":12,
                   "tickSize":{"condition":{"test":"abs(datum.value*20-round(datum.value*20))<0.001","value":-8},"value":-4},
                   "title":"Response","titleX":-43,"titleY":3,"titleAlign":"right","titleBaseline":"alphabetic","titleAngle":270}},
      "color":{"field":"s","type":"nominal","scale":{"domain":["MC10","A","AA"],"range":["#000000","#ff0000","#0000ff"]},"legend":null}}},
    {"mark":{"type":"errorbar","ticks":false,"thickness":1.2},
     "encoding":{"x":{"field":"x","type":"quantitative","axis":null},"y":{"field":"y","type":"quantitative","axis":null},"yError":{"field":"e"},
      "color":{"field":"s","type":"nominal","scale":{"domain":["MC10","A","AA"],"range":["#000000","#ff0000","#0000ff"]},"legend":null}}},
    {"mark":{"type":"point","size":36,"strokeWidth":1.3,"opacity":1},
     "encoding":{
      "x":{"field":"x","type":"quantitative","axis":{"orient":"top","values":[-0.01,0,0.01,0.02,0.03,0.04,0.05,0.06,0.07,0.08,0.09,0.1,0.11,0.12,0.13,0.14,0.15,0.16,0.17,0.18,0.19,0.2,0.21,0.22,0.23,0.24,0.25,0.26,0.27,0.28,0.29,0.3,0.31,0.32,0.33,0.34,0.35,0.36,0.37,0.38],"labels":false,"title":null,
                   "tickSize":{"condition":{"test":"abs(datum.value*20-round(datum.value*20))<0.001","value":-7},"value":-3.5}}},
      "y":{"field":"y","type":"quantitative","axis":{"orient":"right","values":[0.88,0.89,0.9,0.91,0.92,0.93,0.94,0.95,0.96,0.97,0.98,0.99,1,1.01,1.02,1.03,1.04,1.05,1.06,1.07,1.08,1.09,1.1,1.11,1.12,1.13,1.14,1.15,1.16,1.17,1.18,1.19,1.2,1.21,1.22],"labels":false,"title":null,
                   "tickSize":{"condition":{"test":"abs(datum.value*20-round(datum.value*20))<0.001","value":-8},"value":-4}}},
      "shape":{"field":"s","type":"nominal","scale":{"domain":["MC10","A","AA"],"range":["circle","circle","triangle-up"]},"legend":null},
      "fill":{"field":"s","type":"nominal","scale":{"domain":["MC10","A","AA"],"range":["#000000","#ffffff","#0000ff"]},"legend":null},
      "stroke":{"field":"s","type":"nominal","scale":{"domain":["MC10","A","AA"],"range":["#000000","#ff0000","#0000ff"]},"legend":null}}},
    {"data":{"values":[{}]},"mark":{"type":"text","text":"ATLAS Simulation","fontWeight":"bold","fontStyle":"italic","fontSize":11.5},"encoding":{"x":{"datum":0.1553,"type":"quantitative","axis":null},"y":{"datum":1.1911,"type":"quantitative","axis":null}}},
    {"data":{"values":[{}]},"mark":{"type":"text","text":"√s = 7TeV"},"encoding":{"x":{"datum":0.1511,"type":"quantitative","axis":null},"y":{"datum":1.168,"type":"quantitative","axis":null}}},
    {"data":{"values":[{}]},"mark":{"type":"text","text":"anti-kₜ R=0.6, EM+JES"},"encoding":{"x":{"datum":0.1553,"type":"quantitative","axis":null},"y":{"datum":1.1443,"type":"quantitative","axis":null}}},
    {"data":{"values":[{}]},"mark":{"type":"text","text":"|η| < 0.6"},"encoding":{"x":{"datum":0.1553,"type":"quantitative","axis":null},"y":{"datum":1.1223,"type":"quantitative","axis":null}}},
    {"data":{"values":[{}]},"mark":{"type":"text","text":"80 < pₜʲᵉᵗ < 110 GeV"},"encoding":{"x":{"datum":0.1553,"type":"quantitative","axis":null},"y":{"datum":1.1002,"type":"quantitative","axis":null}}},
    {"data":{"values":[{}]},"mark":{"type":"point","shape":"M-1,0L1,0M-0.3,0A0.3,0.3,0,1,1,0.3,0A0.3,0.3,0,1,1,-0.3,0Z","size":361,"fill":"#000000","stroke":"#000000","strokeWidth":1.5,"opacity":1},"encoding":{"x":{"datum":0.1771,"type":"quantitative","axis":null},"y":{"datum":1.0688,"type":"quantitative","axis":null}}},
    {"data":{"values":[{}]},"mark":{"type":"point","shape":"M-1,0L-0.3,0M0.3,0L1,0M-0.3,0A0.3,0.3,0,1,1,0.3,0A0.3,0.3,0,1,1,-0.3,0Z","size":361,"fill":"#ffffff","stroke":"#ff0000","strokeWidth":1.5,"opacity":1},"encoding":{"x":{"datum":0.1771,"type":"quantitative","axis":null},"y":{"datum":1.0485,"type":"quantitative","axis":null}}},
    {"data":{"values":[{}]},"mark":{"type":"point","shape":"M-1,0L1,0M0,-0.36L0.34,0.24L-0.34,0.24Z","size":361,"fill":"#0000ff","stroke":"#0000ff","strokeWidth":1.5,"opacity":1},"encoding":{"x":{"datum":0.1771,"type":"quantitative","axis":null},"y":{"datum":1.0286,"type":"quantitative","axis":null}}},
    {"data":{"values":[{}]},"mark":{"type":"text","text":"PYTHIA MC10","fontSize":11.5},"encoding":{"x":{"datum":0.1989,"type":"quantitative","axis":null},"y":{"datum":1.0688,"type":"quantitative","axis":null}}},
    {"data":{"values":[{}]},"mark":{"type":"text","text":"PYTHIA Using A","fontSize":11.5},"encoding":{"x":{"datum":0.1989,"type":"quantitative","axis":null},"y":{"datum":1.0485,"type":"quantitative","axis":null}}},
    {"data":{"values":[{}]},"mark":{"type":"text","text":"PYTHIA Using A-Aₜᵣᵤₑ","fontSize":11.5},"encoding":{"x":{"datum":0.1989,"type":"quantitative","axis":null},"y":{"datum":1.0286,"type":"quantitative","axis":null}}}
   ]},
   {"transform":[{"filter":"datum.s!='MC10'"}],
    "resolve":{"axis":{"x":"independent","y":"independent"}},
    "layer":[
    {"mark":{"type":"rule","strokeWidth":2,"opacity":0.4},
     "encoding":{
      "x":{"field":"lo","type":"quantitative","scale":{"domain":[-0.0105,0.384],"nice":false,"zero":false},
           "axis":{"orient":"bottom","values":[-0.01,0,0.01,0.02,0.03,0.04,0.05,0.06,0.07,0.08,0.09,0.1,0.11,0.12,0.13,0.14,0.15,0.16,0.17,0.18,0.19,0.2,0.21,0.22,0.23,0.24,0.25,0.26,0.27,0.28,0.29,0.3,0.31,0.32,0.33,0.34,0.35,0.36,0.37,0.38],
                   "labelExpr":"abs(datum.value*20-round(datum.value*20))<0.001 ? ''+datum.value : ''","labelPadding":9,
                   "tickSize":{"condition":{"test":"abs(datum.value*20-round(datum.value*20))<0.001","value":-5},"value":-2.5},
                   "title":"Width","titleFontSize":12,"titleX":250,"titleY":31.5,"titleAlign":"right","titleBaseline":"alphabetic"}},
      "x2":{"field":"hi"},
      "y":{"field":"d","type":"quantitative","scale":{"domain":[-0.106,0.118],"range":[264,208],"nice":false,"zero":false},
           "axis":{"orient":"left","values":[-0.1,-0.09,-0.08,-0.07,-0.06,-0.05,-0.04,-0.03,-0.02,-0.01,0,0.01,0.02,0.03,0.04,0.05,0.06,0.07,0.08,0.09,0.1,0.11],
                   "labelExpr":"abs(datum.value*20-round(datum.value*20))<0.001 ? ''+datum.value : ''","labelPadding":9,
                   "tickSize":{"condition":{"test":"abs(datum.value*20-round(datum.value*20))<0.001","value":-5},"value":-2.5},
                   "grid":true,"gridDash":[2,2],"gridColor":"#777777","gridWidth":0.8,"gridOpacity":{"condition":{"test":"abs(datum.value*20-round(datum.value*20))<0.001","value":1},"value":0},
                   "title":"Difference","titleX":-41,"titleY":208,"titleAlign":"right","titleBaseline":"alphabetic","titleAngle":270}},
      "color":{"field":"s","type":"nominal","scale":{"domain":["MC10","A","AA"],"range":["#000000","#ff0000","#0000ff"]},"legend":null}}},
    {"mark":{"type":"point","size":30,"strokeWidth":1.3,"opacity":1},
     "encoding":{
      "x":{"field":"x","type":"quantitative","axis":{"orient":"top","ticks":false,"labels":false,"title":null}},
      "y":{"field":"d","type":"quantitative","axis":{"orient":"right","values":[-0.1,-0.09,-0.08,-0.07,-0.06,-0.05,-0.04,-0.03,-0.02,-0.01,0,0.01,0.02,0.03,0.04,0.05,0.06,0.07,0.08,0.09,0.1,0.11],"labels":false,"title":null,
                   "tickSize":{"condition":{"test":"abs(datum.value*20-round(datum.value*20))<0.001","value":-5},"value":-2.5}}},
      "shape":{"field":"s","type":"nominal","scale":{"domain":["MC10","A","AA"],"range":["circle","circle","triangle-up"]},"legend":null},
      "fill":{"field":"s","type":"nominal","scale":{"domain":["MC10","A","AA"],"range":["#000000","#ffffff","#0000ff"]},"legend":null},
      "stroke":{"field":"s","type":"nominal","scale":{"domain":["MC10","A","AA"],"range":["#000000","#ff0000","#0000ff"]},"legend":null}}}
   ]}
  ]}
]}
]
}
